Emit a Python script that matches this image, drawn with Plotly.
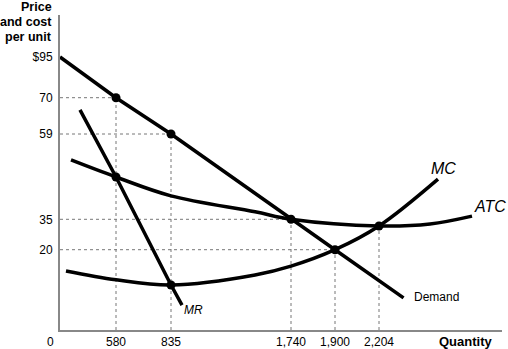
import numpy as np
import plotly.graph_objects as go

# Axis ticks (economic values) and where they sit on the schematic (not-to-scale) axes
Q_TICKS = [580, 835, 1740, 1900, 2204]
Q_TICK_TEXT = ["580", "835", "1,740", "1,900", "2,204"]
P_TICKS = [20, 35, 59, 70, 95]
P_TICK_TEXT = ["20", "35", "59", "70", "$95"]

# Schematic axis scale: quantity/price value -> drawing position
Q_SCALE_VAL = [0, 580, 835, 1740, 1900, 2204, 3000]
Q_SCALE_POS = [60, 116, 171, 291, 335, 379, 490]
P_SCALE_VAL = [0, 20, 35, 59, 70, 95, 120]
P_SCALE_POS = [0, 80.3, 110.7, 196, 232.3, 273, 330]

# Curves (quantity, price)
demand_q = [0, 580, 835, 1740, 1900, 2380]
demand_p = [95, 70, 59, 35, 20, 8]

mr_q = [207, 580, 835, 918]
mr_p = [66.3, 46.9, 11.2, 6.2]

atc_q = [114, 580, 835, 1469, 1740, 2204, 2570, 2871]
atc_p = [51.7, 46.9, 41.6, 37.1, 35, 31.7, 32.7, 35.9]

mc_q = [62, 580, 835, 1469, 1740, 1900, 2204, 2627]
mc_p = [14.7, 12.5, 11.2, 13.7, 15.9, 20, 31.7, 46.3]

# Marked points
dot_q = [580, 835, 580, 835, 1740, 1900, 2204]
dot_p = [70, 59, 46.9, 11.2, 35, 20, 31.7]

# Dotted guide lines: (quantity, price) of the point each guide leads to
guide_q = [580, 835, 1740, 1900, 2204]
guide_p = [70, 59, 35, 20, 31.7]
hguide_q = [580, 835, 1740, 1900]
hguide_p = [70, 59, 35, 20]

X_RANGE = [60, 502]
Y_RANGE = [0, 315]


def qx(q):
    return np.interp(q, Q_SCALE_VAL, Q_SCALE_POS)


def py(p):
    return np.interp(p, P_SCALE_VAL, P_SCALE_POS)


def to_paper(x, y):
    return ((x - X_RANGE[0]) / (X_RANGE[1] - X_RANGE[0]),
            (y - Y_RANGE[0]) / (Y_RANGE[1] - Y_RANGE[0]))


FONT = "Liberation Sans, Arial, Helvetica, sans-serif"
X0 = qx(0)

fig = go.Figure()

# guides
for q, p in zip(guide_q, guide_p):
    fig.add_trace(go.Scatter(x=[qx(q), qx(q)], y=[0, py(p)], mode="lines",
                             line=dict(color="#777777", width=1, dash="dot"),
                             hoverinfo="skip", showlegend=False))
for q, p in zip(hguide_q, hguide_p):
    fig.add_trace(go.Scatter(x=[X0, qx(q)], y=[py(p), py(p)], mode="lines",
                             line=dict(color="#777777", width=1, dash="dot"),
                             hoverinfo="skip", showlegend=False))

curve_style = dict(color="black", width=3.5)
fig.add_trace(go.Scatter(x=qx(atc_q), y=py(atc_p), mode="lines",
                         line=dict(shape="spline", smoothing=1.0, **curve_style),
                         name="ATC", showlegend=False))
fig.add_trace(go.Scatter(x=qx(mc_q), y=py(mc_p), mode="lines",
                         line=dict(shape="spline", smoothing=1.0, **curve_style),
                         name="MC", showlegend=False))
fig.add_trace(go.Scatter(x=qx(demand_q), y=py(demand_p), mode="lines",
                         line=curve_style, name="Demand", showlegend=False))
fig.add_trace(go.Scatter(x=qx(mr_q), y=py(mr_p), mode="lines",
                         line=curve_style, name="MR", showlegend=False))
fig.add_trace(go.Scatter(x=qx(dot_q), y=py(dot_p), mode="markers",
                         marker=dict(color="black", size=9),
                         showlegend=False))

labels = [
    dict(x=443, y=162, text="<i>MC</i>", size=16, xanchor="center"),
    dict(x=490, y=124, text="<i>ATC</i>", size=16, xanchor="center"),
    dict(x=193, y=20, text="<i>MR</i>", size=12, xanchor="center"),
    dict(x=436, y=33, text="Demand", size=12, xanchor="center"),
    dict(x=465, y=-11, text="<b>Quantity</b>", size=13, xanchor="center"),
    dict(x=50, y=-12, text="0", size=12, xanchor="center"),
    dict(x=54, y=323, text="<b>Price</b>", size=12.5, xanchor="right"),
    dict(x=54, y=308, text="<b>and cost</b>", size=12.5, xanchor="right"),
    dict(x=54, y=293, text="<b>per unit</b>", size=12.5, xanchor="right"),
]
for a in labels:
    px_, py_ = to_paper(a["x"], a["y"])
    fig.add_annotation(x=px_, y=py_, xref="paper", yref="paper", text=a["text"],
                       showarrow=False, xanchor=a["xanchor"], yanchor="middle",
                       font=dict(family=FONT, size=a["size"], color="black"))

fig.update_layout(
    width=508, height=349,
    margin=dict(l=60, r=6, t=15, b=19, autoexpand=False),
    plot_bgcolor="white", paper_bgcolor="white",
    xaxis=dict(range=X_RANGE, showgrid=False, zeroline=False, automargin=False,
               showline=True, linecolor="#888888", linewidth=2,
               tickmode="array", tickvals=qx(Q_TICKS), ticktext=Q_TICK_TEXT,
               ticks="",
               tickfont=dict(family=FONT, size=12, color="black")),
    yaxis=dict(range=Y_RANGE, showgrid=False, zeroline=False, automargin=False,
               showline=True, linecolor="#888888", linewidth=2,
               tickmode="array", tickvals=py(P_TICKS), ticktext=P_TICK_TEXT,
               ticks="outside", ticklen=3, tickcolor="rgba(0,0,0,0)",
               tickfont=dict(family=FONT, size=12, color="black")),
)

fig.write_html("out.html")
